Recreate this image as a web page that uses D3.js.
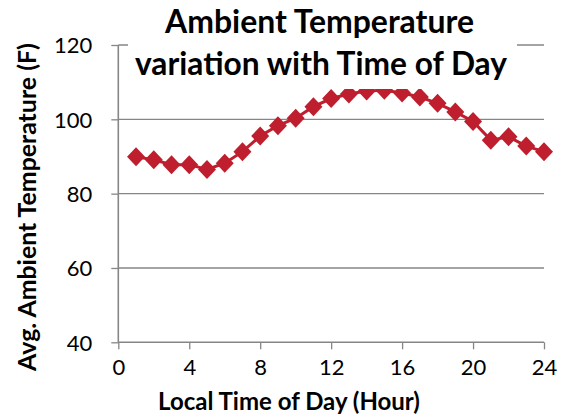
<!DOCTYPE html>
<html><head><meta charset="utf-8">
<script src="https://cdn.jsdelivr.net/npm/d3@7"></script>
<style>body{margin:0;background:#fff}svg{display:block}text{font-family:Lato,"Open Sans",sans-serif}</style>
</head><body><svg id="c" width="562" height="415"></svg>
<script>
const hours = [1,2,3,4,5,6,7,8,9,10,11,12,13,14,15,16,17,18,19,20,21,22,23,24];
const temps = [89.9,89.1,87.8,87.8,86.5,88.2,91.3,95.5,98.3,100.3,103.4,105.6,106.8,107.6,107.8,107.1,106.0,104.3,102.0,99.4,94.4,95.3,92.8,91.3];
const xTicks = [0,4,8,12,16,20,24];
const yTicks = [40,60,80,100,120];
const titleLines = ["Ambient Temperature","variation with Time of Day"];
const xTitle = "Local Time of Day (Hour)";
const yTitle = "Avg. Ambient Temperature (F)";

const svg = d3.select("#c");
const L=118.3, R=544, T=45, B=342.3;
const x = d3.scaleLinear().domain([0,24]).range([L,R]);
const y = d3.scaleLinear().domain([40,120]).range([B,T]);
const axisCol = "#868686", red = "#BE1E2D";

function fit(sel, target){
  const w = sel.node().getComputedTextLength();
  const fs = parseFloat(sel.attr("font-size"));
  sel.attr("font-size", fs*target/w);
}

svg.append("g").selectAll("line").data(yTicks.filter(d=>d>40)).join("line")
  .attr("x1",L).attr("x2",R).attr("y1",d=>y(d)).attr("y2",d=>y(d))
  .attr("stroke",axisCol).attr("stroke-width",1.3);

const gx = svg.append("g").attr("transform",`translate(0,${B})`)
  .call(d3.axisBottom(x).tickValues(xTicks).tickSize(7).tickPadding(10).tickFormat(d3.format("d")));
const gy = svg.append("g").attr("transform",`translate(${L},0)`)
  .call(d3.axisLeft(y).tickValues(yTicks).tickSize(7).tickPadding(19).tickFormat(d3.format("d")));
[gx,gy].forEach(g=>{
  g.select(".domain").attr("stroke",axisCol).attr("stroke-width",1.6);
  g.selectAll(".tick line").attr("stroke",axisCol).attr("stroke-width",1.3);
  g.selectAll(".tick text").attr("font-size",22).attr("fill","#000").attr("font-family","Lato");
});
gx.selectAll(".tick text").attr("dy","0.71em");
gy.selectAll(".tick text").attr("dy","0.36em");
gx.select(".domain").attr("d",`M${L},0H${R}`);
gy.select(".domain").attr("d",`M0,${B}V${T}`);

svg.append("path").datum(hours.map((h,i)=>[h,temps[i]]))
  .attr("d",d3.line().x(d=>x(d[0])).y(d=>y(d[1])))
  .attr("fill","none").attr("stroke",red).attr("stroke-width",3);
svg.append("g").selectAll("path").data(hours.map((h,i)=>[h,temps[i]])).join("path")
  .attr("transform",d=>`translate(${x(d[0])},${y(d[1])})`)
  .attr("d","M0,-9.5L9,0L0,9.5L-9,0Z").attr("fill",red);

svg.append("rect").attr("x",128).attr("y",0).attr("width",389).attr("height",89).attr("fill","#fff");
const t1 = svg.append("text").attr("x",319.5).attr("y",33).attr("text-anchor","middle")
  .attr("font-weight","bold").attr("font-size",30).text(titleLines[0]);
fit(t1,309);
const t2 = svg.append("text").attr("x",321).attr("y",75).attr("text-anchor","middle")
  .attr("font-weight","bold").attr("font-size",30).text(titleLines[1]);
fit(t2,372);

const xt = svg.append("text").attr("x",289).attr("y",410).attr("text-anchor","middle")
  .attr("font-weight","bold").attr("font-size",20).text(xTitle);
fit(xt,262);
const yt = svg.append("text").attr("transform","translate(36,207) rotate(-90)").attr("text-anchor","middle")
  .attr("font-weight","bold").attr("font-size",20).text(yTitle);
fit(yt,328);
</script></body></html>
